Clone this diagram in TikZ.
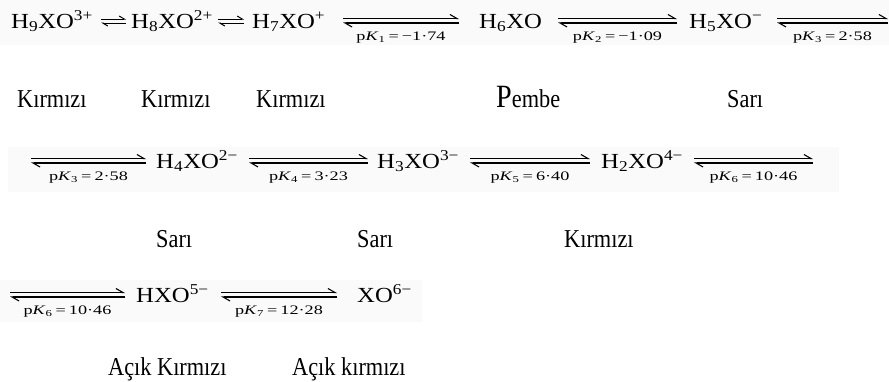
\documentclass[tikz,border=0pt]{standalone}
\usepackage{fontspec}
\setmainfont{Liberation Serif}
\usetikzlibrary{arrows.meta}
\tikzset{
  chem/.style={anchor=base west, inner sep=0pt, font=\fontsize{21.5}{21.5}\selectfont},
  pk/.style={anchor=north, inner sep=0pt, font=\fontsize{13}{13}\selectfont},
  colour/.style={anchor=base west, inner sep=0pt, font=\fontsize{23}{23}\selectfont},
  eqline/.style={line width=1.1pt, -{Straight Barb[left,length=7pt,width=8pt]}},
  eqsmall/.style={line width=1pt, -{Straight Barb[left,length=5pt,width=6pt]}},
  band/.style={fill=black!2, draw=none},
}
\newcommand\chemf[1]{\scalebox{1.15}[1]{#1}}
\newcommand\colt[1]{\scalebox{0.97}[1.12]{#1}}
\newcommand\eqarr[5]{%
  \coordinate (#1TL) at (#2,#4-9.5); \coordinate (#1TR) at (#3,#4-9.5);
  \coordinate (#1BL) at (#2,#4-5); \coordinate (#1BR) at (#3,#4-5);
  \draw[eqline] (#1TL) -- (#1TR);
  \draw[eqline] (#1BR) -- (#1BL);
  \node[pk] (#1k) at ({(#2+#3)/2},#4+3.5) {\scalebox{1.4}[1]{#5}};}
\newcommand\eqshort[4]{%
  \coordinate (#1TL) at (#2,#4-9); \coordinate (#1TR) at (#3,#4-9);
  \coordinate (#1BL) at (#2,#4-5); \coordinate (#1BR) at (#3,#4-5);
  \draw[eqsmall] (#1TL) -- (#1TR);
  \draw[eqsmall] (#1BR) -- (#1BL);}
\newcommand\pK[2]{p\textit{K}\textsubscript{#1}\,=\,#2}
\begin{document}
\begin{tikzpicture}[x=1pt,y=-1pt]
\useasboundingbox (0,0) rectangle (889,381);
\fill[band] (0,0) rectangle (889,45);
\fill[band] (8,147) rectangle (839,192);
\fill[band] (0,280) rectangle (422,322);
% row 1
\node[chem] (h9) at (11,28) {\chemf{H\textsubscript{9}XO\textsuperscript{3+}}};
\eqshort{s1}{101}{126}{28}
\node[chem] (h8) at (131,28) {\chemf{H\textsubscript{8}XO\textsuperscript{2+}}};
\eqshort{s2}{218}{244}{28}
\node[chem] (h7) at (252,28) {\chemf{H\textsubscript{7}XO\textsuperscript{+}}};
\eqarr{a1}{343}{459}{28}{\pK{1}{−1·74}}
\node[chem] (h6) at (479,28) {\chemf{H\textsubscript{6}XO}};
\eqarr{a2}{558}{677}{28}{\pK{2}{−1·09}}
\node[chem] (h5) at (689,28) {\chemf{H\textsubscript{5}XO\textsuperscript{−}}};
\eqarr{a3}{777}{888}{28}{\pK{3}{2·58}}
% colours row 1
\node[colour] (c1) at (17,107) {\colt{Kırmızı}};
\node[colour] (c2) at (141,107) {\colt{Kırmızı}};
\node[colour] (c3) at (256,107) {\colt{Kırmızı}};
\node[colour] (c4) at (496,107) {\colt{{\fontsize{29}{29}\selectfont P}embe}};
\node[colour] (c5) at (727,107) {\colt{Sarı}};
% row 2
\eqarr{b1}{31}{146}{168}{\pK{3}{2·58}}
\node[chem] (h4) at (156,168) {\chemf{H\textsubscript{4}XO\textsuperscript{2−}}};
\eqarr{b2}{249}{368}{168}{\pK{4}{3·23}}
\node[chem] (h3) at (377,168) {\chemf{H\textsubscript{3}XO\textsuperscript{3−}}};
\eqarr{b3}{470}{590}{168}{\pK{5}{6·40}}
\node[chem] (h2) at (601,168) {\chemf{H\textsubscript{2}XO\textsuperscript{4−}}};
\eqarr{b4}{694}{813}{168}{\pK{6}{10·46}}
% colours row 2
\node[colour] (d1) at (156,247) {\colt{Sarı}};
\node[colour] (d2) at (357,247) {\colt{Sarı}};
\node[colour] (d3) at (564,247) {\colt{Kırmızı}};
% row 3
\eqarr{e1}{10}{125}{302}{\pK{6}{10·46}}
\node[chem] (h1) at (136,302) {\chemf{HXO\textsuperscript{5−}}};
\eqarr{e2}{221}{337}{302}{\pK{7}{12·28}}
\node[chem] (h0) at (357,302) {\chemf{XO\textsuperscript{6−}}};
% colours row 3
\node[colour] (f1) at (108,375) {\colt{Açık Kırmızı}};
\node[colour] (f2) at (292,375) {\colt{Açık kırmızı}};
\end{tikzpicture}
\end{document}
